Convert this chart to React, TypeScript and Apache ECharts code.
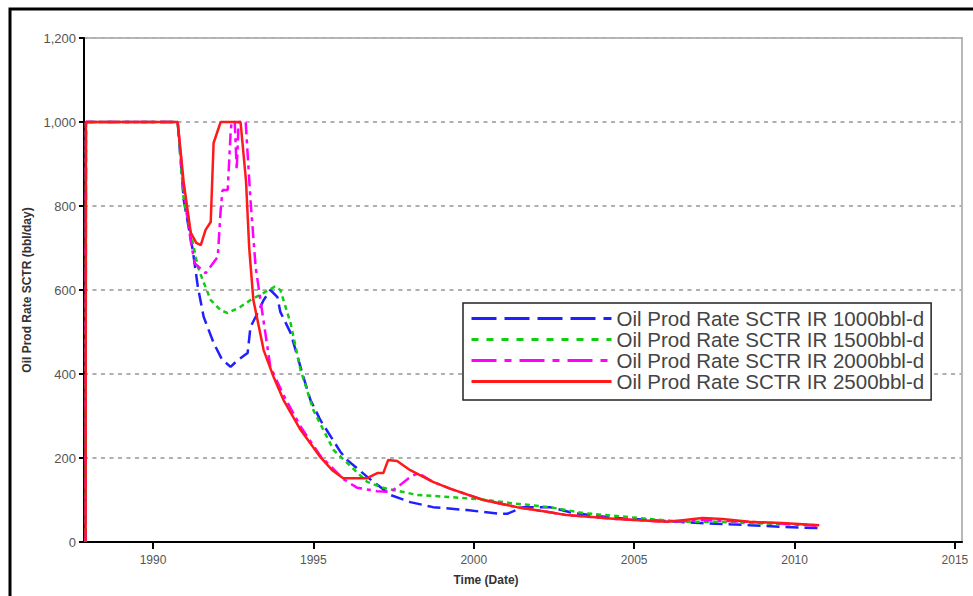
import React, { useEffect, useRef } from "react";
import * as echarts from "echarts";

const seriesNames = [
  "Oil Prod Rate SCTR IR 1000bbl-d",
  "Oil Prod Rate SCTR IR 1500bbl-d",
  "Oil Prod Rate SCTR IR 2000bbl-d",
  "Oil Prod Rate SCTR IR 2500bbl-d",
];

const xTickValues = [1990, 1995, 2000, 2005, 2010, 2015];

const rate1000: [number, number][] = [
  [1987.9, 0], [1987.91, 1000], [1990.77, 1000], [1990.96, 814], [1991.24, 695],
  [1991.4, 607], [1991.58, 536], [1991.89, 474], [1992.15, 435], [1992.42, 417],
  [1992.64, 433], [1992.95, 450], [1993.04, 512], [1993.26, 545], [1993.45, 576],
  [1993.66, 600], [1993.88, 583], [1993.97, 548], [1994.29, 498], [1994.69, 393],
  [1994.91, 338], [1995.22, 290], [1995.84, 215], [1996.06, 195], [1996.68, 155],
  [1997.4, 112], [1998.02, 95], [1998.73, 83], [1999.79, 76], [2000.81, 67],
  [2001.04, 67], [2001.54, 83], [2002.37, 83], [2003.1, 69], [2004.45, 57],
  [2006.01, 50], [2007.04, 45], [2008.59, 40], [2009.61, 36], [2010.77, 33],
];

const rate1500: [number, number][] = [
  [1987.9, 0], [1987.91, 1000], [1990.77, 1000], [1990.96, 814], [1991.4, 655],
  [1991.55, 624], [1991.8, 576], [1992.11, 552], [1992.33, 545], [1992.73, 560],
  [1993.04, 576], [1993.45, 593], [1993.8, 608], [1993.97, 600], [1994.29, 521],
  [1994.6, 410], [1995.0, 314], [1995.63, 219], [1996.18, 179], [1996.68, 143],
  [1997.18, 129], [1998.24, 112], [1999.26, 107], [2000.29, 101], [2001.35, 91],
  [2002.37, 83], [2003.4, 69], [2005.45, 55], [2006.5, 48], [2007.56, 48],
  [2008.59, 45], [2009.61, 43], [2010.67, 40],
];

const rate2000: [number, number][] = [
  [1987.9, 0], [1987.91, 1000], [1990.77, 1000], [1990.96, 840], [1991.18, 715],
  [1991.3, 664], [1991.64, 640], [1992.02, 679], [1992.11, 790], [1992.17, 838],
  [1992.33, 838], [1992.42, 974], [1992.45, 1000], [1992.55, 1000], [1992.61, 886],
  [1992.67, 1000], [1992.89, 1000], [1993.04, 814], [1993.2, 655], [1993.35, 576],
  [1993.66, 417], [1994.07, 350], [1994.6, 275], [1995.22, 205], [1995.93, 150],
  [1996.37, 129], [1996.99, 121], [1997.4, 119], [1997.71, 136], [1998.02, 155],
  [1998.27, 164], [1998.73, 143], [1999.26, 127], [2000.3, 100], [2001.35, 83],
  [2002.37, 71], [2002.9, 64], [2004.45, 55], [2006.01, 48], [2007.13, 52],
  [2008.59, 48], [2009.3, 45], [2010.77, 38],
];

const rate2500: [number, number][] = [
  [1987.9, 0], [1987.91, 1000], [1990.77, 1000], [1990.96, 855], [1991.18, 736],
  [1991.35, 712], [1991.49, 707], [1991.64, 743], [1991.8, 762], [1991.89, 950],
  [1992.11, 1000], [1992.73, 1000], [1992.9, 860], [1993.0, 700], [1993.13, 576],
  [1993.45, 457], [1993.76, 393], [1994.07, 338], [1994.6, 267], [1995.22, 202],
  [1995.6, 170], [1995.93, 152], [1996.68, 152], [1996.99, 164], [1997.18, 164],
  [1997.33, 195], [1997.61, 193], [1998.02, 171], [1998.73, 143], [1999.26, 127],
  [2000.3, 100], [2001.35, 83], [2002.37, 71], [2002.9, 64], [2004.45, 55],
  [2006.01, 48], [2006.51, 52], [2007.13, 57], [2007.75, 55], [2008.59, 48],
  [2009.61, 45], [2010.77, 40],
];

const colors = ["#2020ff", "#11cc11", "#ff00ff", "#ff1a1a"];
const chartDash: (number[] | "solid")[] = [[13, 6], [5, 4], [12, 5, 4, 5], "solid"];
const legendDash: (number[] | "solid")[] = [[25, 8], [7, 8], [25, 8, 7, 8], "solid"];
const allData = [rate1000, rate1500, rate2000, rate2500];

export default function App() {
  const ref = useRef<HTMLDivElement>(null);
  useEffect(() => {
    if (!ref.current) return;
    const chart = echarts.init(ref.current, undefined, { renderer: "svg" });
    const font = "Arial, 'Liberation Sans', Helvetica, sans-serif";
    chart.setOption({
      animation: false,
      backgroundColor: "#ffffff",
      textStyle: { fontFamily: font },
      grid: {
        left: 84,
        right: 11,
        top: 38,
        bottom: 54,
        show: true,
        borderColor: "#b8b8b8",
        borderWidth: 2,
      },
      graphic: [
        {
          type: "rect",
          shape: { x: 10, y: 9, width: 1100, height: 800 },
          style: { fill: "none", stroke: "#000", lineWidth: 3 },
          silent: true,
        },
      ],
      legend: {
        orient: "vertical",
        left: 463,
        top: 303,
        padding: [5, 7, 8, 7],
        itemWidth: 140,
        itemHeight: 14,
        itemGap: 0,
        borderColor: "#222",
        borderWidth: 1.5,
        backgroundColor: "#fff",
        itemStyle: { opacity: 0 },
        textStyle: { fontSize: 20.5, color: "#444", fontFamily: font },
        data: seriesNames.map((n, i) => ({
          name: n,
          itemStyle: { opacity: 0 },
          lineStyle: { type: legendDash[i], width: 3, color: colors[i] },
        })),
      },
      xAxis: {
        type: "value",
        min: 1987.85,
        max: 2015.22,
        name: "Time (Date)",
        nameLocation: "middle",
        nameGap: 32,
        nameTextStyle: {
          fontSize: 12,
          fontWeight: "bold",
          color: "#333",
          padding: [0, 74, 0, 0],
        },
        axisLine: { lineStyle: { color: "#000", width: 2 } },
        axisTick: {
          show: true,
          length: 7,
          lineStyle: { color: "#000", width: 2 },
          customValues: xTickValues,
        },
        axisLabel: {
          fontSize: 12,
          color: "#555",
          margin: 12,
          customValues: xTickValues,
          formatter: (v: number) => String(Math.round(v)),
        },
        splitLine: { show: false },
      },
      yAxis: {
        type: "value",
        min: 0,
        max: 1200,
        interval: 200,
        name: "Oil Prod Rate SCTR (bbl/day)",
        nameLocation: "middle",
        nameGap: 46,
        nameTextStyle: { fontSize: 12, fontWeight: "bold", color: "#333" },
        axisLine: { show: true, lineStyle: { color: "#000", width: 2 } },
        axisTick: { show: true, length: 5, lineStyle: { color: "#000", width: 2 } },
        axisLabel: { fontSize: 13, color: "#555", margin: 8 },
        splitLine: {
          show: true,
          lineStyle: { color: "#b0b0b0", width: 2, type: [4, 4.5] },
        },
      },
      series: seriesNames.map((n, i) => ({
        name: n,
        type: "line",
        data: allData[i],
        symbol: "none",
        showSymbol: false,
        smooth: false,
        z: 2 + i,
        lineStyle: { color: colors[i], width: 2.5, type: chartDash[i] },
        itemStyle: { color: colors[i] },
      })),
    });
    return () => chart.dispose();
  }, []);
  return (
    <div
      ref={ref}
      style={{ position: "absolute", left: 0, top: 0, width: 973, height: 596, background: "#fff" }}
    />
  );
}
